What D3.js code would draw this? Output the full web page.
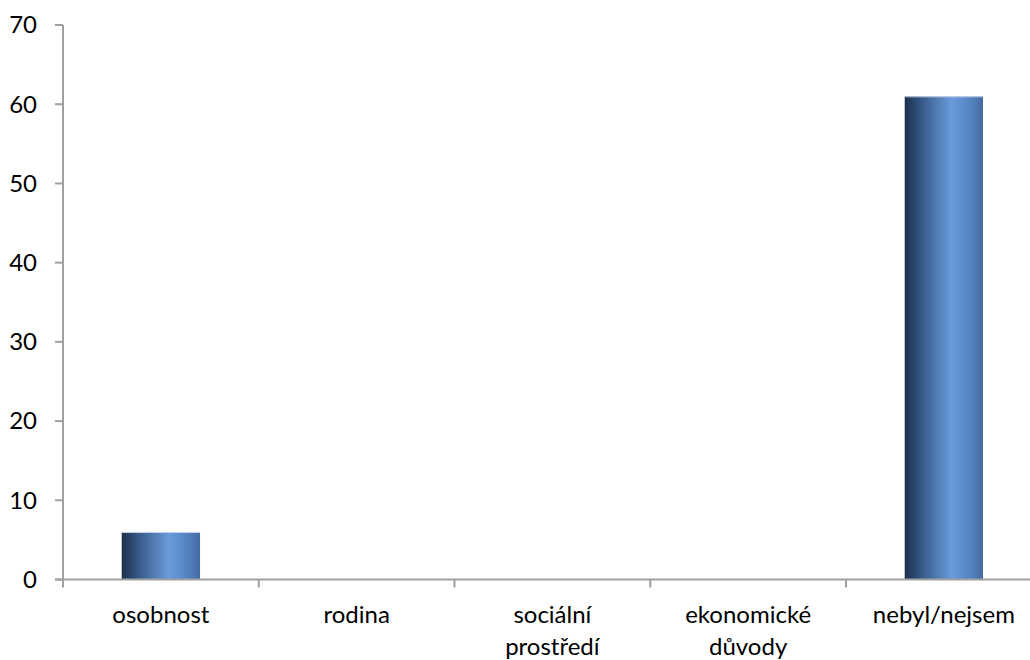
<!DOCTYPE html>
<html><head><meta charset="utf-8">
<script src="https://cdn.jsdelivr.net/npm/d3@7"></script>
<style>
body{margin:0;background:#fff;}
text{font-family:Lato,"Open Sans",sans-serif;fill:#000;}
</style></head>
<body>
<script>
const categories = [["osobnost"],["rodina"],["sociální","prostředí"],["ekonomické","důvody"],["nebyl/nejsem"]];
const values = [6, 0, 0, 0, 61];
const yTicks = [0,10,20,30,40,50,60,70];

const W=1030,H=660;
const svg=d3.select("body").append("svg").attr("width",W).attr("height",H);
const x0=63, x1=63+5*195.75, yTop=25, yBot=579.5;
const x=d3.scaleBand().domain(d3.range(categories.length)).range([x0,x1]).paddingInner(0.6).paddingOuter(0.3);
const y=d3.scaleLinear().domain([0,70]).range([yBot,yTop]);
const FS=24;

const defs=svg.append("defs");
const g=defs.append("linearGradient").attr("id","bg").attr("x1","0").attr("x2","1").attr("y1","0").attr("y2","0");
[[0,"#1b2f4b"],[0.25,"#3b6090"],[0.6,"#6a9bdc"],[0.85,"#5482c0"],[1,"#44699f"]].forEach(([o,c])=>g.append("stop").attr("offset",o).attr("stop-color",c));

const bars=svg.append("g");
categories.forEach((c,i)=>{
  if(values[i]<=0) return;
  bars.append("rect").attr("x",x(i)).attr("width",x.bandwidth())
    .attr("y",y(values[i])).attr("height",y(0)-y(values[i])).attr("fill","url(#bg)");
  bars.append("line").attr("x1",x(i)).attr("x2",x(i)+x.bandwidth())
    .attr("y1",y(values[i])+0.5).attr("y2",y(values[i])+0.5).attr("stroke","#c8d4e6").attr("stroke-width",1);
});

// y axis
const ya=svg.append("g");
ya.append("line").attr("x1",x0).attr("x2",x0).attr("y1",yTop).attr("y2",yBot).attr("stroke","#a0a0a0").attr("stroke-width",2);
yTicks.forEach(t=>{
  ya.append("line").attr("x1",55).attr("x2",x0).attr("y1",y(t)).attr("y2",y(t)).attr("stroke","#a0a0a0").attr("stroke-width",2);
  ya.append("text").attr("x",37).attr("y",y(t)).attr("dy","0.35em").attr("text-anchor","end").attr("font-size",FS).text(t);
});

// x axis
const xa=svg.append("g");
xa.append("line").attr("x1",x0-8).attr("x2",x1).attr("y1",yBot).attr("y2",yBot).attr("stroke","#a0a0a0").attr("stroke-width",2);
const step=(x1-x0)/categories.length;
d3.range(categories.length+1).forEach(i=>{
  const xx=x0+i*step;
  xa.append("line").attr("x1",xx).attr("x2",xx).attr("y1",yBot).attr("y2",yBot+8).attr("stroke","#a0a0a0").attr("stroke-width",2);
});
categories.forEach((c,i)=>{
  const cx=x(i)+x.bandwidth()/2;
  c.forEach((l,j)=>{
    xa.append("text").attr("x",cx).attr("y",615+j*32).attr("dy","0.35em").attr("text-anchor","middle").attr("font-size",FS).text(l);
  });
});
</script>
</body></html>
